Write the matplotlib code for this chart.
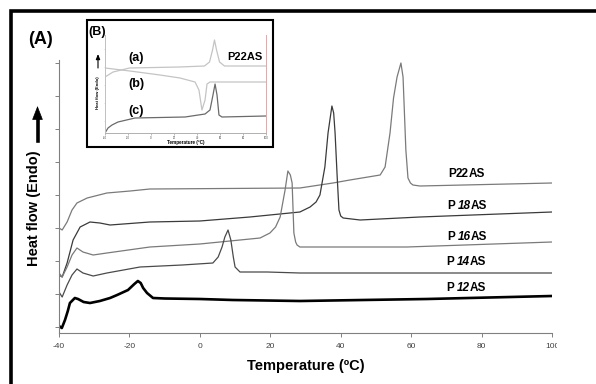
import matplotlib
matplotlib.use("Agg")
import matplotlib.pyplot as plt
from matplotlib.patches import Rectangle
from matplotlib.transforms import Bbox, TransformedBbox

plt.rcParams['font.family'] = ['Liberation Sans', 'DejaVu Sans']

# ---------------- data (main panel A) ----------------
t_p12 = [-40, -39.2, -38.3, -37.5, -36.9, -35.5, -34.6, -33.0, -31.2, -28.4, -25.5, -23.5, -20.4, -18.6, -17.6, -16.8, -16.1, -15.0, -13.3, -10, 0, 9.4, 28.4, 46.3, 64.5, 100]
y_p12 = [7, 5, 13, 22, 30, 35, 34, 31, 30, 32, 35, 38, 43, 49, 52, 50, 45, 40, 35, 34.5, 34, 33, 32, 33, 34, 37]

t_p14 = [-40, -39.1, -37.7, -36.3, -34.9, -33.2, -30.3, -26.4, -17.0, -5.0, 3.7, 5.2, 6.3, 7.1, 8.0, 8.8, 9.5, 10.0, 11.4, 19.1, 28.4, 100]
y_p14 = [41, 36, 48, 58, 64, 60, 57, 60, 66, 68, 70, 76, 86, 96, 103, 93, 76, 66, 61, 61, 60, 60]

t_p16 = [-40, -39.1, -37.7, -36.3, -34.9, -33.2, -30.3, -26.4, -14.2, 0, 17.1, 19.9, 21.5, 22.8, 24.2, 25.0, 25.7, 26.2, 26.7, 27.2, 27.6, 28.4, 58.8, 100]
y_p16 = [60, 56, 66, 78, 85, 81, 78, 80, 86, 89, 95, 100, 106, 116, 143, 162, 158, 150, 100, 91, 88, 86, 86, 91]

t_p18 = [-40, -39.1, -37.7, -36.0, -34.0, -31.2, -28.4, -25.5, -14.2, 0, 14.2, 28.4, 31.3, 33.0, 34.1, 35.5, 36.4, 37.5, 38.0, 38.4, 39.0, 39.5, 40.0, 40.7, 45.5, 62.5, 100]
y_p18 = [58, 56, 70, 93, 106, 111, 110, 108, 111, 112, 116, 121, 126, 131, 138, 166, 200, 227, 220, 200, 156, 123, 117, 115, 113, 116, 121]

t_p22 = [-40, -39.1, -37.7, -36.3, -34.9, -32.0, -26.4, -19.8, -14.2, 28.4, 37.8, 42.6, 51.2, 52.6, 54.0, 55.0, 56.0, 57.1, 57.7, 58.5, 59.1, 59.8, 60.5, 62.5, 100]
y_p22 = [105, 103, 111, 123, 130, 135, 140, 142, 144, 145, 150, 153, 158, 166, 200, 235, 256, 270, 256, 183, 155, 150, 148, 147, 150]

x_ticks = [-40, -20, 0, 20, 40, 60, 80, 100]
x_tick_labels = ['-40', '-20', '0', '20', '40', '60', '80', '100']
y_ticks = [6, 39, 72, 105, 138, 171, 204, 237, 270]

series_labels = [('P', '22', 'AS', False), ('P', '18', 'AS', True), ('P', '16', 'AS', True),
                 ('P', '14', 'AS', True), ('P', '12', 'AS', True)]

# ---------------- data (inset B) ----------------
t_a = [-40, -33, -18.7, 24.8, 46.5, 50.9, 53.5, 55.2, 57.0, 59.6, 63.9, 100]
y_a = [56, 61, 65, 66, 67, 71, 83, 93, 83, 71, 67, 67]
t_b = [-40, -18.3, 7.8, 25.2, 38.3, 41.7, 44.3, 47.0, 48.7, 51.3, 100]
y_b = [65, 62, 58, 55, 51, 43, 23, 33, 49, 51, 51]
t_c = [-40, -37.4, -33.9, -28.7, -13.9, 29.6, 47.0, 51.3, 53.9, 55.7, 57.4, 59.1, 61.7, 100]
y_c = [0, 5, 8, 11, 15, 16, 19, 23, 38, 49, 38, 18, 16, 17]

W, H = 596, 384
fig = plt.figure(figsize=(W / 100, H / 100), dpi=100)


def fx(x):
    return x / W


def fy(y):
    return 1 - y / H


# outer frame (only left/top edges visible in the picture)
fig.add_artist(Rectangle((fx(11), -0.5), 1.5, fy(11) + 0.5,
                         transform=fig.transFigure, fill=False, lw=2.6, ec='black'))

# ---------------- main axes ----------------
ax = fig.add_axes([fx(59), fy(333), fx(552) - fx(59), (333 - 60) / H])
ax.set_xlim(-40, 100)
ax.set_ylim(0, 273)
for s in ['top', 'right']:
    ax.spines[s].set_visible(False)
for s in ['left', 'bottom']:
    ax.spines[s].set_color('#808080')
    ax.spines[s].set_linewidth(0.8)
ax.set_xticks(x_ticks)
ax.set_xticklabels(x_tick_labels)
ax.set_yticks(y_ticks)
ax.set_yticklabels([])
ax.tick_params(axis='both', direction='out', length=3, width=0.7, color='#808080',
               labelsize=6, labelcolor='#404040', pad=4)

ax.plot(t_p22, y_p22, color='#7a7a7a', lw=0.9)
ax.plot(t_p18, y_p18, color='#3a3a3a', lw=0.9)
ax.plot(t_p16, y_p16, color='#7a7a7a', lw=0.9)
ax.plot(t_p14, y_p14, color='#4a4a4a', lw=0.9)
ax.plot(t_p12, y_p12, color='black', lw=1.9)

# clip the "100" label as in the reference
clipbox = TransformedBbox(Bbox.from_extents(0, 0, fx(557), 1), fig.transFigure)
for lab in ax.get_xticklabels():
    lab.set_clip_on(True)
    lab.set_clip_box(clipbox)

# curve labels
label_pos = [(448, 174), (448, 206), (448, 237), (447, 262), (447, 288)]
for (a, b, c, ital), (px, py) in zip(series_labels, label_pos):
    t1 = fig.text(fx(px), fy(py), a + '\u2009' if ital else a, fontsize=8.5, fontweight='bold',
                  va='center', ha='left', family=['Liberation Sans', 'DejaVu Sans'])
    t2 = ax.annotate(b, xy=(1, 0), xycoords=t1, va='bottom', ha='left', fontsize=8.5,
                     fontweight='bold', style='italic' if ital else 'normal')
    ax.annotate(c, xy=(1, 0), xycoords=t2, va='bottom', ha='left', fontsize=8.5, fontweight='bold')

fig.text(fx(306), fy(366), 'Temperature (ºC)', fontsize=10.5, fontweight='bold', ha='center', va='center')
fig.text(fx(34), fy(208), 'Heat flow (Endo)', fontsize=10.5, fontweight='bold', rotation=90,
         ha='center', va='center')
fig.add_artist(plt.Line2D([fx(37.5), fx(37.5)], [fy(141), fy(116)], transform=fig.transFigure,
                          color='black', lw=2.6))
ax.annotate('', xy=(fx(37.5), fy(106)), xytext=(fx(37.5), fy(118)), xycoords='figure fraction',
            textcoords='figure fraction',
            arrowprops=dict(arrowstyle='-|>,head_length=0.9,head_width=0.35', color='black', lw=0.5,
                            shrinkA=0, shrinkB=0))
fig.text(fx(28), fy(40), '(A)', fontsize=13, fontweight='bold', ha='left', va='center')

# ---------------- inset B ----------------
fig.add_artist(Rectangle((fx(87), fy(147)), fx(273) - fx(87), fy(20) - fy(147), transform=fig.transFigure,
                         facecolor='white', edgecolor='black', lw=1.5, zorder=3))
ins = fig.add_axes([fx(105), fy(133), fx(266) - fx(105), (133 - 35) / H], zorder=4)
ins.patch.set_alpha(0)
ins.set_xlim(-40, 100)
ins.set_ylim(0, 98)
ins.spines['top'].set_visible(False)
ins.spines['left'].set_color('#c0c0c0')
ins.spines['bottom'].set_color('#b0b0b0')
ins.spines['right'].set_color('#f4a0a0')
for s in ins.spines.values():
    s.set_linewidth(0.7)
ins.set_xticks(x_ticks)
ins.set_xticklabels(x_tick_labels)
ins.set_yticks([12, 30, 48, 66, 84])
ins.set_yticklabels([])
ins.tick_params(axis='both', direction='out', length=1.5, width=0.5, color='#a0a0a0',
                labelsize=2, labelcolor='#404040', pad=1)
ins.tick_params(axis='y', length=1, color='#d0d0d0')

ins.plot(t_a, y_a, color='#c4c4c4', lw=0.9)
ins.plot(t_b, y_b, color='#c4c4c4', lw=0.9)
ins.plot(t_c, y_c, color='#6a6a6a', lw=0.9)

fig.text(fx(88), fy(32), '(B)', fontsize=9, fontweight='bold', ha='left', va='center', zorder=5)
for lbl, yy in [('(a)', 58), ('(b)', 84), ('(c)', 111)]:
    fig.text(fx(128), fy(yy), lbl, fontsize=9, fontweight='bold', ha='left', va='center', zorder=5)
fig.text(fx(227), fy(57), 'P22AS', fontsize=8, fontweight='bold', ha='left', va='center', zorder=5)
fig.text(fx(186), fy(142), 'Temperature (ºC)', fontsize=3.3, fontweight='bold', ha='center', va='center',
         zorder=5)
fig.text(fx(98), fy(93), 'Heat flow (Endo)', fontsize=3, fontweight='bold', rotation=90,
         ha='center', va='center', zorder=5)
ins.annotate('', xy=(fx(98), fy(54)), xytext=(fx(98), fy(68)), xycoords='figure fraction',
             textcoords='figure fraction',
             arrowprops=dict(arrowstyle='-|>,head_length=0.3,head_width=0.12', color='black', lw=0.8,
                             shrinkA=0, shrinkB=0))

fig.savefig('out.png', dpi=100)
